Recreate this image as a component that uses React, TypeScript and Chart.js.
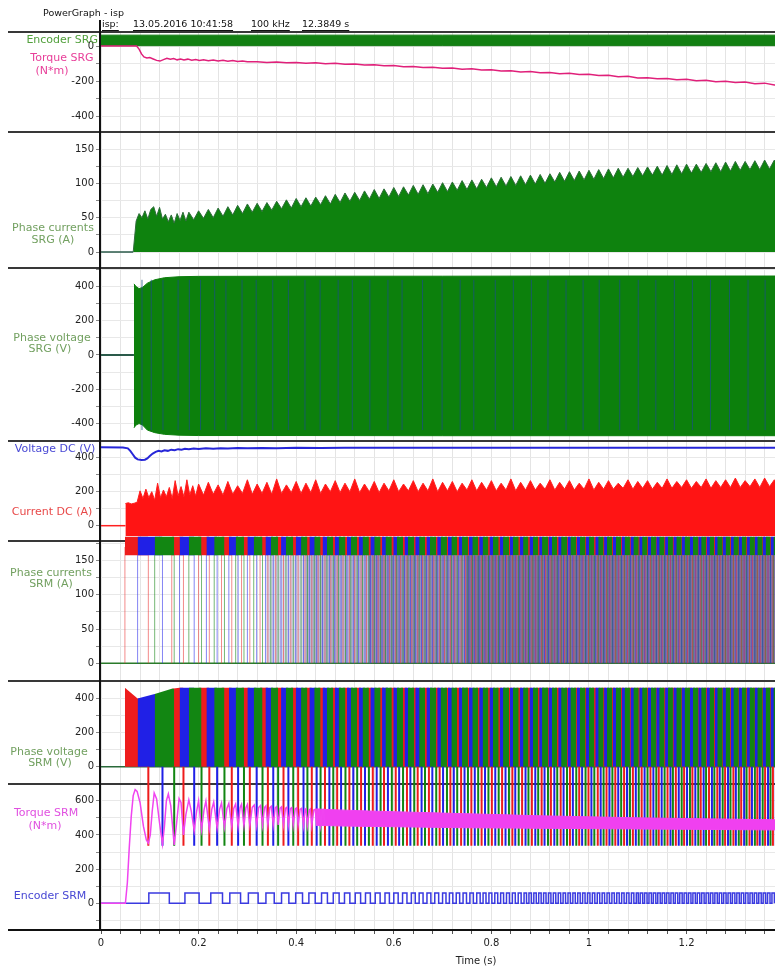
import React, { useEffect, useRef } from 'react';
import { Chart, registerables } from 'chart.js';

Chart.register(...registerables);

// ---------------- data ----------------
const X_MIN = 0;
const X_MAX = 1.537;
const X_STEP = 0.04;
const X_MAJOR = 0.2;

// Encoder SRG band (panel 1)
const encSrgT = [0, 1.4];
const encSrgHi = [62, 62];
const encSrgLo = [2, 2];

// Torque SRG (N*m)
const torqueSrgT = [0, 0.073, 0.078, 0.083, 0.088, 0.094, 0.1, 0.107, 0.114, 0.121, 0.128, 0.135, 0.142, 0.149, 0.156, 0.163, 0.17, 0.178, 0.186, 0.194, 0.202, 0.21, 0.22, 0.23, 0.24, 0.25, 0.26, 0.27, 0.28, 0.29, 0.3,
  0.32, 0.34, 0.36, 0.38, 0.40, 0.42, 0.44, 0.46, 0.48, 0.50, 0.52, 0.54, 0.56, 0.58, 0.60, 0.62, 0.64, 0.66, 0.68, 0.70,
  0.72, 0.74, 0.76, 0.78, 0.80, 0.82, 0.84, 0.86, 0.88, 0.90, 0.92, 0.94, 0.96, 0.98, 1.00, 1.02, 1.04, 1.06, 1.08, 1.10,
  1.12, 1.14, 1.16, 1.18, 1.20, 1.22, 1.24, 1.26, 1.28, 1.30, 1.32, 1.34, 1.36, 1.38, 1.40];
const torqueSrgV = [0, 0, -18, -45, -62, -68, -66, -74, -82, -86, -78, -70, -76, -72, -79, -74, -80, -75, -81, -77, -83, -79, -84, -80, -86, -82, -87, -83, -88, -85, -90,
  -90, -94, -92, -96, -94, -98, -96, -101, -99, -104, -103, -108, -107, -113, -111, -118, -117, -123, -121, -127,
  -126, -132, -130, -137, -135, -143, -141, -148, -146, -153, -151, -158, -156, -163, -161, -169, -167, -175, -173, -183,
  -181, -187, -185, -193, -190, -198, -195, -204, -201, -209, -206, -215, -212, -223, -220];

// Phase currents SRG (A) upper envelope
const curSrgT = [0.066, 0.072, 0.078, 0.084, 0.09, 0.096, 0.102, 0.108, 0.114, 0.12, 0.126, 0.132, 0.138, 0.144, 0.15, 0.156, 0.162, 0.168, 0.174, 0.18,
  0.19, 0.20, 0.21, 0.22, 0.23, 0.24, 0.25, 0.26, 0.27, 0.28, 0.29, 0.30, 0.31, 0.32, 0.33, 0.34, 0.35, 0.36, 0.37, 0.38, 0.39, 0.40,
  0.41, 0.42, 0.43, 0.44, 0.45, 0.46, 0.47, 0.48, 0.49, 0.50, 0.51, 0.52, 0.53, 0.54, 0.55, 0.56, 0.57, 0.58, 0.59, 0.60,
  0.61, 0.62, 0.63, 0.64, 0.65, 0.66, 0.67, 0.68, 0.69, 0.70, 0.71, 0.72, 0.73, 0.74, 0.75, 0.76, 0.77, 0.78, 0.79, 0.80,
  0.81, 0.82, 0.83, 0.84, 0.85, 0.86, 0.87, 0.88, 0.89, 0.90, 0.91, 0.92, 0.93, 0.94, 0.95, 0.96, 0.97, 0.98, 0.99, 1.00,
  1.01, 1.02, 1.03, 1.04, 1.05, 1.06, 1.07, 1.08, 1.09, 1.10, 1.11, 1.12, 1.13, 1.14, 1.15, 1.16, 1.17, 1.18, 1.19, 1.20,
  1.21, 1.22, 1.23, 1.24, 1.25, 1.26, 1.27, 1.28, 1.29, 1.30, 1.31, 1.32, 1.33, 1.34, 1.35, 1.36, 1.37, 1.38, 1.39, 1.40];
const curSrgV = [0, 45, 56, 50, 60, 48, 62, 66, 52, 65, 48, 55, 44, 54, 42, 56, 46, 58, 45, 58,
  47, 60, 49, 62, 50, 64, 52, 66, 54, 68, 56, 70, 58, 71, 59, 72, 61, 74, 63, 76, 64, 78,
  66, 79, 67, 80, 69, 82, 70, 84, 72, 86, 74, 87, 75, 89, 77, 91, 78, 92, 80, 94,
  81, 95, 83, 97, 84, 98, 85, 99, 87, 101, 88, 102, 90, 104, 91, 105, 92, 106, 94, 108,
  95, 109, 96, 110, 97, 111, 98, 112, 99, 113, 100, 114, 102, 116, 103, 117, 104, 118, 105, 119,
  106, 120, 107, 121, 108, 122, 109, 122, 110, 123, 111, 124, 112, 125, 112, 126, 113, 127, 114, 128,
  115, 128, 116, 129, 117, 130, 117, 131, 118, 132, 119, 132, 120, 133, 120, 134, 121, 134, 122, 135];

// Phase voltage SRG (V) envelopes
const voltSrgT = [0.0675, 0.072, 0.078, 0.085, 0.095, 0.11, 0.13, 0.16, 0.2, 0.4, 0.7, 1.0, 1.4];
const voltSrgHi = [416, 400, 388, 395, 420, 440, 452, 458, 460, 461, 461, 462, 462];
const voltSrgLo = [-427, -410, -402, -410, -440, -455, -465, -470, -472, -472, -473, -473, -473];
const voltSrgStreakMs = [84, 103, 127, 158, 181, 204, 233, 256, 289, 318, 352, 384, 418, 449, 486, 515, 551, 588, 617, 659, 699, 736, 764, 808,
  845, 882, 916, 953, 988, 1021, 1063, 1101, 1137, 1175, 1212, 1249, 1288, 1326, 1361, 1396];

// Voltage DC (V)
const vdcMs = [0, 45, 55, 60, 65, 70, 75, 83, 90, 95, 100, 106, 112, 118, 124, 130, 137, 144, 151, 158, 165, 172, 180, 190, 200, 215, 230, 245, 260, 280,
  300, 330, 360, 400, 450, 500, 600, 700, 800, 900, 1000, 1100, 1200, 1300, 1400];
const vdcV = [461, 460, 455, 440, 420, 400, 390, 386, 388, 396, 410, 424, 434, 440, 437, 443, 440, 447, 444, 450, 447, 452, 449, 454, 451, 455, 452, 456, 454, 457,
  455, 457, 456, 458, 457, 458, 458, 458, 458, 458, 458, 458, 458, 458, 458];

// Current DC (A) upper envelope
const idcT = [0.050, 0.056, 0.062, 0.068, 0.074, 0.080, 0.086, 0.092, 0.098, 0.104, 0.110, 0.116, 0.122, 0.128, 0.134, 0.140, 0.146, 0.152, 0.158, 0.164, 0.170, 0.176, 0.182, 0.188, 0.194, 0.200,
  0.21, 0.22, 0.23, 0.24, 0.25, 0.26, 0.27, 0.28, 0.29, 0.30, 0.31, 0.32, 0.33, 0.34, 0.35, 0.36, 0.37, 0.38, 0.39, 0.40,
  0.41, 0.42, 0.43, 0.44, 0.45, 0.46, 0.47, 0.48, 0.49, 0.50, 0.51, 0.52, 0.53, 0.54, 0.55, 0.56, 0.57, 0.58, 0.59, 0.60,
  0.61, 0.62, 0.63, 0.64, 0.65, 0.66, 0.67, 0.68, 0.69, 0.70, 0.71, 0.72, 0.73, 0.74, 0.75, 0.76, 0.77, 0.78, 0.79, 0.80,
  0.81, 0.82, 0.83, 0.84, 0.85, 0.86, 0.87, 0.88, 0.89, 0.90, 0.91, 0.92, 0.93, 0.94, 0.95, 0.96, 0.97, 0.98, 0.99, 1.00,
  1.01, 1.02, 1.03, 1.04, 1.05, 1.06, 1.07, 1.08, 1.09, 1.10, 1.11, 1.12, 1.13, 1.14, 1.15, 1.16, 1.17, 1.18, 1.19, 1.20,
  1.21, 1.22, 1.23, 1.24, 1.25, 1.26, 1.27, 1.28, 1.29, 1.30, 1.31, 1.32, 1.33, 1.34, 1.35, 1.36, 1.37, 1.38, 1.39, 1.40];
const idcV = [130, 135, 128, 132, 138, 205, 160, 215, 165, 200, 150, 250, 165, 210, 170, 225, 160, 265, 175, 230, 170, 270, 180, 235, 175, 245,
  180, 255, 185, 240, 180, 260, 185, 235, 190, 270, 185, 245, 190, 255, 185, 275, 190, 240, 195, 260,
  190, 250, 195, 270, 190, 245, 200, 265, 195, 250, 200, 275, 195, 245, 200, 260, 195, 250, 205, 270,
  200, 245, 205, 265, 200, 250, 205, 275, 200, 255, 205, 260, 200, 250, 210, 270, 205, 255, 210, 265,
  205, 250, 210, 275, 205, 255, 210, 265, 210, 250, 215, 270, 210, 255, 215, 265, 210, 250, 215, 275,
  210, 255, 215, 265, 215, 250, 220, 270, 215, 260, 220, 265, 215, 255, 220, 275, 220, 260, 225, 270,
  220, 260, 225, 275, 220, 265, 225, 270, 225, 280, 225, 265, 230, 275, 225, 280, 230, 270, 230, 275];
const IDC_FLOOR = -60;

// SRM phase switching: start of each phase's conduction (R, B, G in turn), ms
const phaseOnMs = [49, 75, 110, 145, 161, 180, 200, 216, 232, 247, 262, 276, 288, 300, 313, 326, 337, 348, 358, 369, 379, 389, 399, 410, 418, 427, 437, 445, 454, 463,
  471, 479, 487, 496, 504, 512, 520, 528, 536, 544, 552, 560, 568, 576, 583, 591, 599, 606, 614, 622, 629, 637, 644, 652, 659, 667, 674, 682, 689, 696,
  704, 711, 718, 725, 733, 740, 747, 754, 761, 768, 775, 782, 789, 796, 803, 810, 817, 824, 831, 838, 844, 851, 858, 865, 871, 878, 885, 891, 898, 904,
  911, 917, 924, 930, 937, 943, 950, 956, 962, 969, 975, 981, 988, 994, 1000, 1006, 1013, 1019, 1025, 1031, 1037, 1043, 1049, 1055, 1061, 1067, 1073, 1079, 1085, 1091,
  1097, 1103, 1109, 1115, 1121, 1127, 1133, 1138, 1144, 1150, 1156, 1162, 1167, 1173, 1179, 1185, 1190, 1196, 1202, 1207, 1213, 1219, 1224, 1230, 1235, 1241, 1247, 1252, 1258, 1263,
  1269, 1274, 1280, 1285, 1291, 1296, 1302, 1307, 1313, 1318, 1324, 1329, 1335, 1340, 1345, 1351, 1356, 1362, 1367, 1372, 1378, 1383, 1388, 1394, 1400];
// end of each phase's conduction (negative voltage spike), ms
const phaseOffMs = [97, 126, 150, 169, 191, 206, 222, 238, 253, 268, 281, 293, 305, 319, 331, 342, 353, 363, 374, 384, 394, 404, 415, 423, 432, 442, 450, 459, 468, 476,
  484, 492, 501, 509, 517, 525, 533, 541, 549, 557, 565, 573, 580, 588, 596, 604, 611, 619, 627, 634, 642, 649, 657, 664, 672, 679, 687, 694, 701, 709,
  716, 723, 730, 738, 745, 752, 759, 766, 773, 780, 787, 794, 801, 808, 815, 822, 829, 836, 843, 849, 856, 863, 870, 876, 883, 890, 896, 903, 909, 916,
  922, 929, 935, 942, 948, 955, 961, 967, 974, 980, 986, 993, 999, 1005, 1011, 1018, 1024, 1030, 1036, 1042, 1048, 1054, 1060, 1066, 1072, 1078, 1084, 1090, 1096, 1102,
  1108, 1114, 1120, 1126, 1132, 1138, 1143, 1149, 1155, 1161, 1167, 1172, 1178, 1184, 1190, 1195, 1201, 1207, 1212, 1218, 1224, 1229, 1235, 1240, 1246, 1252, 1257, 1263, 1268, 1274,
  1279, 1285, 1290, 1296, 1301, 1307, 1312, 1318, 1323, 1329, 1334, 1340, 1345, 1350, 1356, 1361, 1367, 1372, 1377, 1383, 1388, 1393, 1399];
const curSrmChopLo = 158;
const curSrmChopHi = 185;
const curSrmEdge = 170;
// overlapping phase currents smear together once the motor is fast (time ranges, s)
const curSrmMashT = [0.34, 0.42, 0.55, 0.75, 1.4];
const curSrmMashTop = 158;
const MASH_COLORS = ['rgba(135,140,188,0.35)', 'rgba(122,126,178,0.55)', 'rgba(106,98,158,0.7)', 'rgba(92,80,140,0.8)'];
const voltSrmTop = [462, 398, 425, 455, 462];
const voltSrmNeg = -462;

// Torque SRM (N*m)
const torqueSrmMs = [0, 50, 54, 58, 62, 66, 70, 74, 80, 87, 93, 97, 101, 105, 109, 114, 120, 126, 130, 134, 138, 143, 150, 155, 160, 164, 169, 174, 180, 185,
  191, 196, 200, 206, 211, 215, 222, 227, 231, 238, 243, 247, 253, 258, 262, 268, 272, 276, 281, 285, 288, 293, 297, 300, 305, 310, 314, 319, 323, 327,
  331, 335, 338, 342, 346, 349, 353, 357, 360, 363, 367, 370, 374, 378, 381, 384, 388, 391, 394, 398, 401, 404, 408, 411, 415, 418, 420, 423, 427, 429,
  432, 436, 439, 442, 445, 447, 450, 454, 456, 459];
const torqueSrmV = [0, 0, 120, 330, 510, 630, 665, 655, 590, 450, 370, 352, 400, 540, 645, 610, 470, 347, 450, 600, 640, 570, 342, 470, 612, 590, 400, 520, 605, 540,
  425, 540, 600, 430, 545, 598, 435, 550, 592, 440, 550, 588, 445, 555, 585, 448, 555, 582, 450, 560, 580, 452, 560, 578, 455, 562, 575, 455, 560, 572,
  456, 560, 570, 457, 560, 568, 458, 558, 566, 458, 556, 564, 458, 555, 562, 458, 554, 560, 457, 552, 558, 457, 550, 556, 456, 548, 553, 456, 547, 552,
  455, 546, 550, 455, 545, 549, 454, 544, 548, 454];
const torqueBandMs = [440, 470, 500, 550, 600, 650, 700, 750, 800, 850, 900, 950, 1000, 1050, 1100, 1150, 1200, 1250, 1300, 1350, 1400];
const torqueBandHi = [552, 548, 545, 540, 536, 532, 528, 524, 520, 516, 512, 509, 506, 503, 500, 498, 496, 494, 492, 490, 488];
const torqueBandLo = [456, 454, 452, 450, 448, 446, 444, 442, 441, 440, 439, 438, 437, 436, 435, 434, 433, 432, 431, 430, 429];

// Encoder SRM: alternating rising / falling edges, ms
const encSrmEdgesMs = [98, 140, 172, 201, 225, 249, 264, 286, 302, 322, 338, 355, 370, 385, 399, 413, 426, 439, 452, 464, 476, 488, 499, 510, 521, 532, 542, 552, 562, 572,
  582, 591, 600, 609, 618, 627, 636, 644, 652, 660, 668, 676, 684, 692, 700, 707, 714, 721, 728, 735, 742, 749, 756, 763, 770, 777, 783, 789, 795, 801,
  807, 813, 819, 825, 831, 837, 843, 849, 855, 861, 867, 872, 877, 882, 887, 892, 897, 902, 907, 912, 917, 922, 927, 932, 937, 942, 947, 952, 957, 962,
  967, 972, 977, 982, 987, 992, 997, 1002, 1007, 1012, 1017, 1022, 1027, 1032, 1037, 1042, 1047, 1052, 1057, 1062, 1067, 1072, 1077, 1082, 1087, 1092, 1097, 1101, 1105, 1110,
  1114, 1119, 1123, 1128, 1132, 1137, 1141, 1146, 1150, 1155, 1159, 1164, 1168, 1173, 1177, 1182, 1186, 1191, 1195, 1200, 1204, 1209, 1213, 1218, 1222, 1227, 1231, 1236, 1240, 1245,
  1249, 1254, 1258, 1263, 1267, 1272, 1276, 1281, 1285, 1290, 1294, 1299, 1303, 1308, 1312, 1317, 1321, 1326, 1330, 1335, 1339, 1344, 1348, 1353, 1357, 1362, 1366, 1371, 1375, 1380];
const encSrmHigh = 60;

// ---------------- layout / style config ----------------
const FONT = '"DejaVu Sans", Verdana, sans-serif';
const Y_PANELS = [
  { id: 'y1', min: -491, max: 80, step: 100, major: 200, weight: 100 },
  { id: 'y2', min: -23.3, max: 174.8, step: 25, major: 50, weight: 136 },
  { id: 'y3', min: -504, max: 509, step: 100, major: 200, weight: 173 },
  { id: 'y4', min: -90, max: 498, step: 100, major: 200, weight: 100 },
  { id: 'y5', min: -25.9, max: 178.8, step: 25, major: 50, weight: 140 },
  { id: 'y6', min: -101, max: 501, step: 100, major: 200, weight: 103 },
  { id: 'y7', min: -156, max: 698, step: 100, major: 200, weight: 146 },
];
const SERIES_LABELS = [
  { text: 'Encoder SRG', axis: 'y1', value: 34, x: 98, align: 'right', color: '#52a03c' },
  { text: 'Torque SRG', axis: 'y1', value: -69, x: 62, align: 'center', color: '#e8409a' },
  { text: '(N*m)', axis: 'y1', value: -143, x: 52, align: 'center', color: '#e8409a' },
  { text: 'Phase currents', axis: 'y2', value: 35, x: 53, align: 'center', color: '#72a060' },
  { text: 'SRG (A)', axis: 'y2', value: 17.5, x: 53, align: 'center', color: '#72a060' },
  { text: 'Phase voltage', axis: 'y3', value: 100, x: 52, align: 'center', color: '#72a060' },
  { text: 'SRG (V)', axis: 'y3', value: 35, x: 50, align: 'center', color: '#72a060' },
  { text: 'Voltage DC (V)', axis: 'y4', value: 453, x: 55, align: 'center', color: '#4848d4' },
  { text: 'Current DC (A)', axis: 'y4', value: 82, x: 52, align: 'center', color: '#e84848' },
  { text: 'Phase currents', axis: 'y5', value: 132, x: 51, align: 'center', color: '#72a060' },
  { text: 'SRM (A)', axis: 'y5', value: 116, x: 51, align: 'center', color: '#72a060' },
  { text: 'Phase voltage', axis: 'y6', value: 88, x: 49, align: 'center', color: '#72a060' },
  { text: 'SRM (V)', axis: 'y6', value: 18, x: 50, align: 'center', color: '#72a060' },
  { text: 'Torque SRM', axis: 'y7', value: 529, x: 46, align: 'center', color: '#e050e0' },
  { text: '(N*m)', axis: 'y7', value: 453, x: 45, align: 'center', color: '#e050e0' },
  { text: 'Encoder SRM', axis: 'y7', value: 41, x: 50, align: 'center', color: '#4848d4' },
];
const HEADER_ITEMS = [
  { text: 'isp:', x: 102 },
  { text: '13.05.2016 10:41:58', x: 133 },
  { text: '100 kHz', x: 251 },
  { text: '12.3849 s', x: 302 },
];
const PHASE_SOLID = ['#ee1c1c', '#2020e6', '#128612'];
const PHASE_EDGE = ['rgba(235,60,60,0.6)', 'rgba(50,50,235,0.6)', 'rgba(25,135,25,0.6)'];

// ---------------- helpers ----------------
const sec = (a: number[]) => a.map((v) => v / 1000);
function xy(t: number[], v: number[]) {
  const n = Math.min(t.length, v.length);
  const out: any[] = [];
  for (let i = 0; i < n; i++) out.push({ x: t[i], y: v[i] });
  return out;
}
function vSegs(times: number[], y0: number, y1: number) {
  const out: any[] = [];
  for (const t of times) out.push({ x: t, y: y0 }, { x: t, y: y1 }, { x: t, y: null });
  return out;
}
// conduction block of one phase: from its switch-on to its switch-off
function blockSegs(on: number[], off: number[], phase: number, top: (i: number) => number) {
  const out: any[] = [];
  for (let i = phase; i + 1 < on.length && i < off.length; i += 3) {
    out.push({ x: on[i], y: top(i) }, { x: on[i + 1], y: top(i + 1) }, { x: off[i], y: top(i + 1) }, { x: off[i], y: null });
  }
  return out;
}
function phaseTimes(list: number[], phase: number) {
  return list.filter((_, i) => i % 3 === phase);
}
function stepWave(edges: number[], high: number) {
  const out: any[] = [{ x: 0, y: 0 }];
  edges.forEach((t, i) => out.push({ x: t, y: i % 2 === 0 ? high : 0 }));
  return out;
}
function ln(yAxisID: string, data: any[], color: string, width: number, extra: any = {}) {
  return {
    type: 'line', data, xAxisID: 'x', yAxisID, borderColor: color, backgroundColor: color,
    borderWidth: width, pointRadius: 0, fill: false, tension: 0, spanGaps: false, ...extra,
  };
}

function buildDatasets() {
  const on = sec(phaseOnMs);
  const off = sec(phaseOffMs);
  const allSwitch = on.concat(off).sort((a, b) => a - b);
  const topFn = (i: number) => voltSrmTop[Math.min(i, voltSrmTop.length - 1)];
  const ds: any[] = [];
  // top-most first
  ds.push(ln('y4', xy(sec(vdcMs), vdcV), '#2626d8', 2));
  ds.push(ln('y7', xy(sec(torqueSrmMs), torqueSrmV), '#f044f0', 1.5));
  ds.push(ln('y7', xy(sec(torqueBandMs), torqueBandHi), '#f044f0', 1));
  ds.push(ln('y7', xy(sec(torqueBandMs), torqueBandLo), '#f044f0', 1, { fill: '-1', backgroundColor: '#f040f0' }));
  ds.push(ln('y7', stepWave(sec(encSrmEdgesMs), encSrmHigh), '#3a3ae0', 1.5, { stepped: 'before' }));
  // negative voltage spikes reach down into the torque panel
  for (let p = 0; p < 3; p++) ds.push(ln('y6', vSegs(phaseTimes(off, p), 0, voltSrmNeg), PHASE_SOLID[p], 2, { clip: false }));
  for (const p of [2, 1, 0]) ds.push(ln('y5', blockSegs(on, off, p, () => curSrmChopHi), PHASE_SOLID[p], 0, { fill: { value: curSrmChopLo }, backgroundColor: PHASE_SOLID[p], clip: false }));
  for (let p = 0; p < 3; p++) {
    const times = phaseTimes(on, p).concat(phaseTimes(off, p)).sort((a, b) => a - b);
    ds.push(ln('y5', vSegs(times, 0, curSrmEdge), PHASE_EDGE[p], 1));
  }
  // smeared phase currents at high speed: wide translucent strokes at every switching instant
  for (let k = 0; k + 1 < curSrmMashT.length; k++) {
    const times = allSwitch.filter((t) => t >= curSrmMashT[k] && t < curSrmMashT[k + 1]);
    ds.push(ln('y5', vSegs(times, 0, curSrmMashTop), MASH_COLORS[k], 3.5, { borderCapStyle: 'butt' }));
  }
  for (const p of [2, 1, 0]) ds.push(ln('y6', blockSegs(on, off, p, topFn), PHASE_SOLID[p], 0, { fill: { value: 0 }, backgroundColor: PHASE_SOLID[p] }));
  ds.push(ln('y6', xy([0, 1.4], [0, 0]), '#2a6a3a', 1.5));
  ds.push(ln('y5', xy([0, 1.4], [0, 0]), '#2a7a2a', 1.5));
  ds.push(ln('y4', xy(idcT, idcV), '#ff2020', 1, { fill: { value: IDC_FLOOR }, backgroundColor: '#ff1414' }));
  ds.push(ln('y4', xy([0, 0.05], [0, 0]), '#ff2020', 1.5));
  ds.push(ln('y3', vSegs(sec(voltSrgStreakMs), -440, 440), 'rgba(25,80,130,0.75)', 1));
  ds.push(ln('y3', xy(voltSrgT, voltSrgHi), '#0c7e0c', 1));
  ds.push(ln('y3', xy(voltSrgT, voltSrgLo), '#0c7e0c', 1, { fill: '-1', backgroundColor: '#0c800c' }));
  ds.push(ln('y3', xy([0, 0.0675], [0, 0]), '#2a5a4a', 2));
  ds.push(ln('y2', xy(curSrgT, curSrgV), '#2d6d3a', 1, { fill: { value: 0 }, backgroundColor: '#0e820e' }));
  ds.push(ln('y2', xy([0, 0.066], [0, 0]), '#2a5a4a', 1.5));
  ds.push(ln('y1', xy(torqueSrgT, torqueSrgV), '#e0207a', 1.5));
  ds.push(ln('y1', xy(encSrgT, encSrgHi), '#137a13', 1));
  ds.push(ln('y1', xy(encSrgT, encSrgLo), '#137a13', 1, { fill: '-1', backgroundColor: '#128012' }));
  return ds;
}

function buildScales() {
  const scales: any = {
    x: {
      type: 'linear', position: 'bottom', min: X_MIN, max: X_MAX,
      grid: { color: '#e4e4e4', lineWidth: 1, tickLength: 4, tickColor: '#555', drawTicks: true },
      border: { display: false },
      ticks: {
        stepSize: X_STEP, includeBounds: false, autoSkip: false, maxRotation: 0, padding: 3,
        color: '#222', font: { family: FONT, size: 10 },
        callback: (v: number) => {
          const k = v / X_MAJOR;
          return Math.abs(k - Math.round(k)) < 1e-6 ? String(Math.round(v * 10) / 10) : '';
        },
      },
      title: { display: true, text: 'Time (s)', color: '#222', font: { family: FONT, size: 10, lineHeight: 1 }, padding: { top: 0, bottom: 0 } },
      afterFit: (s: any) => { s.height = 36; s.paddingLeft = 0; s.paddingRight = 0; },
    },
  };
  // bottom panel first so that the last one is stacked on top
  for (const p of [...Y_PANELS].reverse()) {
    scales[p.id] = {
      type: 'linear', position: 'left', stack: 'panels', stackWeight: p.weight,
      min: p.min, max: p.max,
      grid: { color: '#e8e8e8', lineWidth: 1, tickLength: 5, tickColor: '#888', drawTicks: true },
      border: { display: false },
      ticks: {
        autoSkip: false, padding: 2,
        color: '#222', font: { family: FONT, size: 10 },
        callback: (v: number) => (Math.abs(v % p.major) < 1e-6 ? String(v) : ''),
      },
      afterBuildTicks: (s: any) => {
        const t: any[] = [];
        for (let v = Math.ceil(p.min / p.step) * p.step; v <= p.max; v += p.step) t.push({ value: v });
        s.ticks = t;
      },
      afterFit: (s: any) => { s.width = 101; s.paddingTop = 0; s.paddingBottom = 0; },
    };
  }
  return scales;
}

const decorPlugin = {
  id: 'decor',
  beforeDatasetsDraw(chart: any) {
    const ctx = chart.ctx;
    ctx.save();
    ctx.strokeStyle = '#383838';
    ctx.lineWidth = 2;
    for (const p of Y_PANELS) {
      const y = Math.round(chart.scales[p.id].top);
      ctx.beginPath();
      ctx.moveTo(8, y);
      ctx.lineTo(chart.width, y);
      ctx.stroke();
    }
    ctx.restore();
  },
  afterDraw(chart: any) {
    const ctx = chart.ctx;
    const area = chart.chartArea;
    ctx.save();
    ctx.strokeStyle = '#111';
    ctx.lineWidth = 2;
    ctx.beginPath();
    ctx.moveTo(area.left - 1, 20);
    ctx.lineTo(area.left - 1, area.bottom + 1);
    ctx.stroke();
    ctx.beginPath();
    ctx.moveTo(8, area.bottom);
    ctx.lineTo(chart.width, area.bottom);
    ctx.stroke();
    // header
    ctx.fillStyle = '#111';
    ctx.font = `9.5px ${FONT}`;
    ctx.textBaseline = 'middle';
    ctx.textAlign = 'left';
    ctx.fillText('PowerGraph - isp', 43, 14);
    ctx.lineWidth = 1;
    ctx.strokeStyle = '#111';
    for (const h of HEADER_ITEMS) {
      ctx.fillText(h.text, h.x, 25);
      const w = ctx.measureText(h.text).width;
      ctx.beginPath();
      ctx.moveTo(h.x, 30.5);
      ctx.lineTo(h.x + w, 30.5);
      ctx.stroke();
    }
    // series labels
    ctx.font = `11px ${FONT}`;
    for (const l of SERIES_LABELS) {
      const y = chart.scales[l.axis].getPixelForValue(l.value);
      ctx.fillStyle = l.color;
      ctx.textAlign = l.align as CanvasTextAlign;
      ctx.fillText(l.text, l.x, y);
    }
    ctx.restore();
  },
};

export default function App() {
  const ref = useRef<HTMLCanvasElement | null>(null);
  useEffect(() => {
    if (!ref.current) return;
    const chart = new Chart(ref.current, {
      type: 'line',
      data: { datasets: buildDatasets() },
      options: {
        animation: false,
        responsive: false,
        devicePixelRatio: 1,
        events: [],
        layout: { padding: { top: 32, left: 0, right: 0, bottom: 0 } },
        plugins: { legend: { display: false }, tooltip: { enabled: false }, title: { display: false } },
        scales: buildScales(),
      } as any,
      plugins: [decorPlugin],
    } as any);
    return () => chart.destroy();
  }, []);
  return (
    <div style={{ position: 'fixed', left: 0, top: 0, width: 775, height: 966, overflow: 'hidden', background: '#fff' }}>
      <canvas ref={ref} width={851} height={966} style={{ width: 851, height: 966, display: 'block' }} />
    </div>
  );
}
